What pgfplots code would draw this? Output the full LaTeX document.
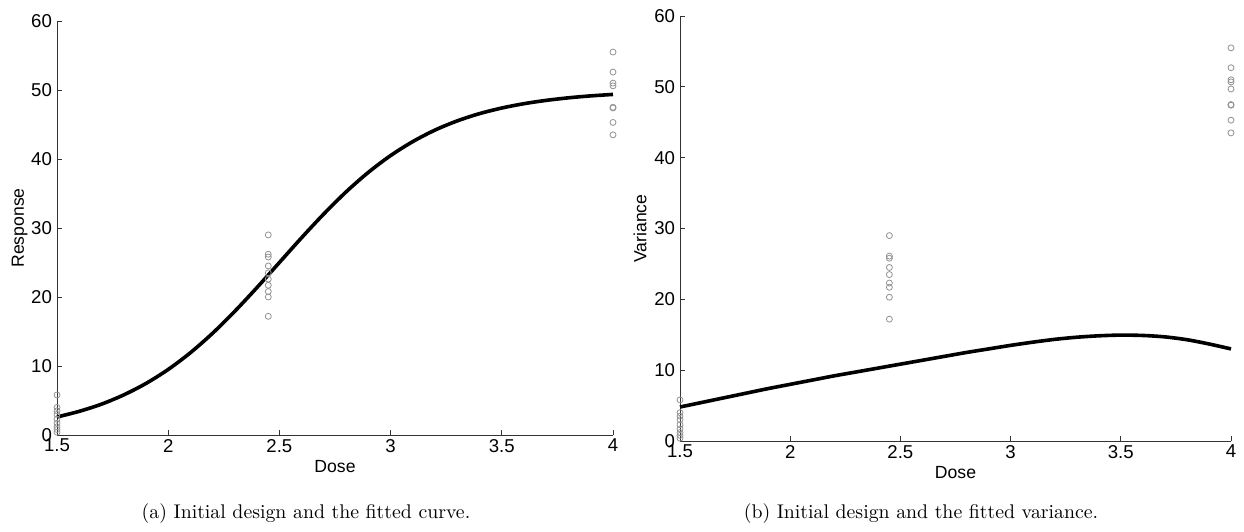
\documentclass[border=0pt]{standalone}
\usepackage{pgfplots}
\pgfplotsset{compat=1.18}
\usepackage{fontspec}
\newfontfamily\arial{Liberation Sans}
\begin{document}
\begin{tikzpicture}
\useasboundingbox (0pt,0pt) rectangle (622pt,265.5pt);
\pgfplotsset{
  myaxis/.style={
    scale only axis,
    anchor=south west,
    axis lines=left,
    axis line style={-, black!80, line width=0.5pt},
    tick align=inside,
    major tick length=2.5pt,
    tick style={black!80, line width=0.5pt},
    xmin=1.5, xmax=4, ymin=0, ymax=60,
    xtick={1.5,2,2.5,3,3.5,4},
    ytick={0,10,20,30,40,50,60},
    xticklabels={1.5,2,2.5,3,3.5,4},
    yticklabels={0,10,20,30,40,50,60},
    tick label style={font=\arial\fontsize{9.3}{10}\selectfont},
    label style={font=\arial\fontsize{8.8}{9.5}\selectfont},
    xticklabel style={yshift=1.5pt},
    yticklabel style={xshift=1pt},
    xlabel={Dose},
    xlabel style={yshift=3pt},
    clip=false,
  },
  pts/.style={only marks, mark=o, mark size=1.5pt, mark options={gray!85, line width=0.4pt}},
}
\begin{axis}[myaxis, at={(28.5pt,48pt)}, width=278pt, height=207pt, ylabel={Response}, ylabel style={yshift=-5pt}]
\addplot[pts] coordinates {
(1.5,5.8)(1.5,4.0)(1.5,3.5)(1.5,3.0)(1.5,2.3)(1.5,1.7)(1.5,1.2)(1.5,0.8)(1.5,0.4)
(2.45,29.0)(2.45,26.2)(2.45,25.8)(2.45,24.5)(2.45,23.5)(2.45,22.6)(2.45,21.7)(2.45,20.8)(2.45,20.0)(2.45,17.2)
(4,55.5)(4,52.6)(4,51.0)(4,50.6)(4,47.5)(4,47.4)(4,45.3)(4,43.5)
};
\addplot[black, line width=1.8pt, smooth] coordinates {
(1.5,2.61)(1.6,3.43)(1.7,4.47)(1.8,5.81)(1.9,7.47)(2.0,9.50)(2.1,11.93)(2.2,14.76)
(2.3,17.95)(2.4,21.40)(2.5,25.00)(2.6,28.60)(2.7,32.05)(2.8,35.24)(2.9,38.07)(3.0,40.50)
(3.1,42.53)(3.2,44.20)(3.3,45.53)(3.4,46.58)(3.5,47.39)(3.6,48.02)(3.7,48.50)(3.8,48.87)
(3.9,49.15)(4.0,49.36)
};
\end{axis}
\begin{axis}[myaxis, at={(340pt,45pt)}, width=275.5pt, height=212.5pt, ylabel={Variance}, ylabel style={yshift=-3pt}]
\addplot[pts] coordinates {
(1.5,5.8)(1.5,4.0)(1.5,3.5)(1.5,3.0)(1.5,2.3)(1.5,1.7)(1.5,1.2)(1.5,0.8)(1.5,0.4)
(2.45,29.0)(2.45,26.1)(2.45,25.8)(2.45,24.5)(2.45,23.5)(2.45,22.3)(2.45,21.7)(2.45,20.3)(2.45,17.2)
(4,55.5)(4,52.7)(4,51.0)(4,50.7)(4,49.7)(4,47.5)(4,47.4)(4,45.3)(4,43.5)
};
\addplot[black, line width=1.8pt, smooth] coordinates {
(1.5,4.8)(1.6,5.45)(1.7,6.1)(1.8,6.75)(1.9,7.4)(2.0,8.0)(2.1,8.6)(2.2,9.2)(2.3,9.75)
(2.4,10.3)(2.5,10.85)(2.6,11.4)(2.7,11.95)(2.8,12.5)(2.9,13.0)(3.0,13.5)(3.1,13.95)
(3.2,14.35)(3.3,14.65)(3.4,14.85)(3.5,14.95)(3.6,14.9)(3.7,14.7)(3.8,14.3)(3.9,13.7)(4.0,13.0)
};
\end{axis}
\node[font=\fontsize{9.9}{11}\selectfont] at (153pt,8.5pt) {(a) Initial design and the fitted curve.};
\node[font=\fontsize{9.9}{11}\selectfont] at (460.5pt,8.5pt) {(b) Initial design and the fitted variance.};
\end{tikzpicture}
\end{document}
